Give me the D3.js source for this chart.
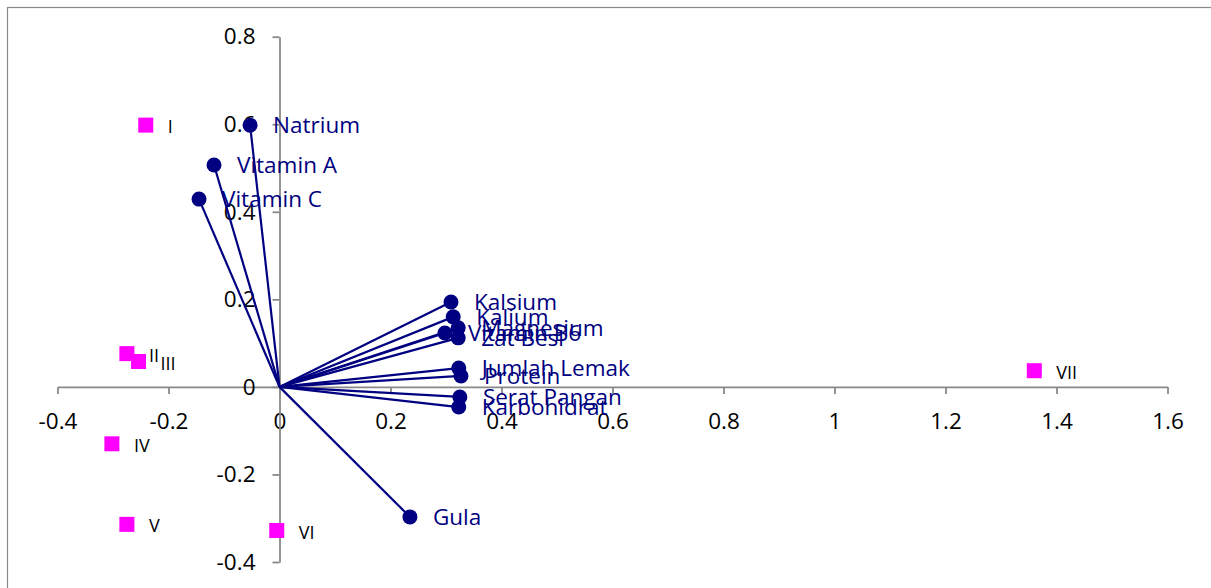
<!DOCTYPE html>
<html>
<head>
<meta charset="utf-8">
<script src="https://cdn.jsdelivr.net/npm/d3@7/dist/d3.min.js"></script>
<style>
  html, body { margin: 0; padding: 0; background: #fff; }
  svg { display: block; font-family: "Open Sans", sans-serif; }
</style>
</head>
<body>
<svg id="chart" width="1211" height="588"></svg>
<script>
// Variable loadings (nutrients)
const loadingNames = ["Natrium", "Vitamin A", "Vitamin C", "Kalsium", "Kalium", "Magnesium",
  "Vitamin B6", "Zat Besi", "Jumlah Lemak", "Protein", "Serat Pangan", "Karbohidrat", "Gula"];
const loadingX = [-0.053, -0.118, -0.145, 0.309, 0.313, 0.322, 0.298, 0.322, 0.323, 0.327, 0.325, 0.323, 0.235];
const loadingY = [0.598, 0.507, 0.429, 0.194, 0.160, 0.135, 0.123, 0.112, 0.043, 0.025, -0.023, -0.046, -0.297];

// Object scores
const scoreNames = ["I", "II", "III", "IV", "V", "VI", "VII"];
const scoreX = [-0.241, -0.275, -0.254, -0.302, -0.275, -0.005, 1.360];
const scoreY = [0.598, 0.076, 0.058, -0.130, -0.314, -0.328, 0.037];

// Axis ticks
const xTicks = [-0.4, -0.2, 0, 0.2, 0.4, 0.6, 0.8, 1, 1.2, 1.4, 1.6];
const yTicks = [-0.4, -0.2, 0, 0.2, 0.4, 0.6, 0.8];

const svg = d3.select("#chart");
const axisColor = "#898989";
const navy = "#000080";
const magenta = "#ff00ff";

const x = d3.scaleLinear().domain([-0.4, 1.6]).range([57.5, 1167.5]);
const y = d3.scaleLinear().domain([-0.4, 0.8]).range([562, 36.7]);

// Outer frame
svg.append("rect")
  .attr("x", 7.5).attr("y", 7.5)
  .attr("width", 1300).attr("height", 700)
  .attr("fill", "none")
  .attr("stroke", axisColor)
  .attr("stroke-width", 1.2);

const fmt = d => String(+d.toFixed(1));

// Axes crossing at the origin
const gx = svg.append("g")
  .attr("transform", `translate(0,${y(0)})`)
  .call(d3.axisBottom(x).tickValues(xTicks).tickFormat(fmt).tickSize(7).tickSizeOuter(0).tickPadding(19));
const gy = svg.append("g")
  .attr("transform", `translate(${x(0)},0)`)
  .call(d3.axisLeft(y).tickValues(yTicks).tickFormat(fmt).tickSize(7).tickSizeOuter(0).tickPadding(17));

[gx, gy].forEach(g => {
  g.select(".domain").attr("stroke", axisColor).attr("stroke-width", 1.8);
  g.selectAll(".tick line").attr("stroke", axisColor).attr("stroke-width", 1.8);
  g.selectAll(".tick text")
    .attr("fill", "#000")
    .style("font-family", "'Open Sans', sans-serif")
    .style("font-size", "22.5px");
});

const loadings = loadingNames.map((n, i) => ({ name: n, x: loadingX[i], y: loadingY[i] }));
const scores = scoreNames.map((n, i) => ({ name: n, x: scoreX[i], y: scoreY[i] }));

// Loading vectors from the origin
svg.append("g").selectAll("line")
  .data(loadings).join("line")
  .attr("x1", x(0)).attr("y1", y(0))
  .attr("x2", d => x(d.x)).attr("y2", d => y(d.y))
  .attr("stroke", navy)
  .attr("stroke-width", 2.2);

svg.append("g").selectAll("circle")
  .data(loadings).join("circle")
  .attr("cx", d => x(d.x)).attr("cy", d => y(d.y))
  .attr("r", 7.5)
  .attr("fill", navy);

// Score markers
svg.append("g").selectAll("rect")
  .data(scores).join("rect")
  .attr("x", d => x(d.x) - 7.5).attr("y", d => y(d.y) - 7.5)
  .attr("width", 15).attr("height", 15)
  .attr("fill", magenta);

// Labels
svg.append("g").selectAll("text")
  .data(loadings).join("text")
  .attr("x", d => x(d.x) + 23)
  .attr("y", d => y(d.y))
  .attr("dy", "0.36em")
  .attr("fill", navy)
  .style("font-size", "22.5px")
  .text(d => d.name);

svg.append("g").selectAll("text")
  .data(scores).join("text")
  .attr("x", d => x(d.x) + 22)
  .attr("y", d => y(d.y))
  .attr("dy", "0.45em")
  .attr("fill", "#000")
  .style("font-size", "18px")
  .text(d => d.name);
</script>
</body>
</html>
